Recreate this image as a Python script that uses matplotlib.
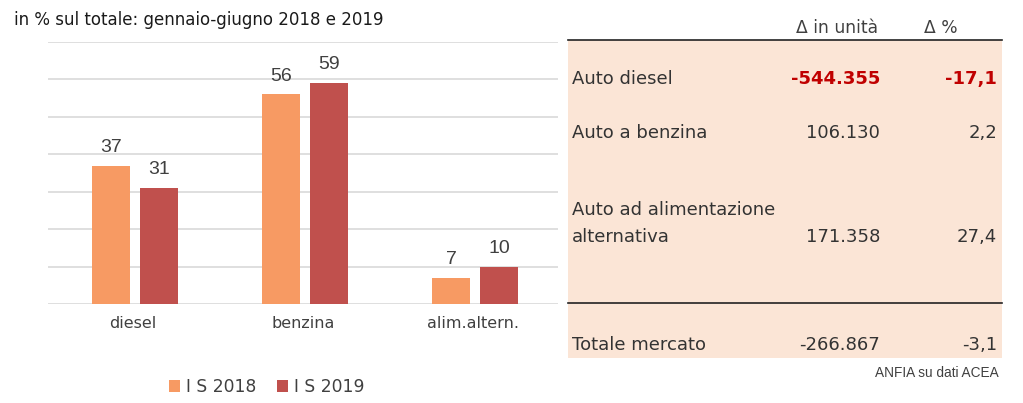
import matplotlib
matplotlib.use("Agg")
import matplotlib.pyplot as plt
from matplotlib.patches import Rectangle
import numpy as np

categories = ["diesel", "benzina", "alim.altern."]
series_names = ["I S 2018", "I S 2019"]
vals_2018 = [37, 56, 7]
vals_2019 = [31, 59, 10]

table_header = ["\u0394 in unit\u00e0", "\u0394 %"]
table_rows = ["Auto diesel", "Auto a benzina", "Auto ad alimentazione\nalternativa", "Totale mercato"]
table_units = ["-544.355", "106.130", "171.358", "-266.867"]
table_pct = ["-17,1", "2,2", "27,4", "-3,1"]

title = "in % sul totale: gennaio-giugno 2018 e 2019"
source = "ANFIA su dati ACEA"

W, H = 1023, 403
C18 = "#F79A63"
C19 = "#C0504D"
TXT = "#404040"
FONT = "DejaVu Sans"

fig = plt.figure(figsize=(W / 100, H / 100), dpi=100)
fig.patch.set_facecolor("white")

def fx(x):
    return x / W

def fy(y):
    return 1 - y / H

ax = fig.add_axes([fx(48), fy(304), fx(558) - fx(48), fy(42) - fy(304)])
x = np.arange(len(categories))
bw = 0.224
off = 0.141
b1 = ax.bar(x - off + 0.012, vals_2018, bw, color=C18, zorder=3, label=series_names[0])
b2 = ax.bar(x + off + 0.012, vals_2019, bw, color=C19, zorder=3, label=series_names[1])
for bars, vals in ((b1, vals_2018), (b2, vals_2019)):
    for r, v in zip(bars, vals):
        ax.text(r.get_x() + r.get_width() / 2, v + 2.6, str(v), ha="center", va="bottom",
                fontsize=14, color=TXT, family="Liberation Sans")
ax.set_xlim(-0.5, 2.5)
ax.set_ylim(0, 70)
ax.set_yticks(np.arange(0, 71, 10))
ax.yaxis.grid(True, color="#D9D9D9", linewidth=1.2, zorder=0)
ax.tick_params(axis="y", left=False, labelleft=False)
ax.tick_params(axis="x", length=0, pad=9)
ax.set_xticks(x)
ax.set_xticklabels(categories, fontsize=11.5, color=TXT, family=FONT)
for s in ax.spines.values():
    s.set_visible(False)
ax.set_facecolor("none")

fig.text(fx(14), fy(20), title, fontsize=12, color="#1a1a1a", family=FONT, va="center", ha="left")

leg = fig.legend(handles=[b1, b2], labels=series_names, loc="center", bbox_to_anchor=(fx(267), fy(387)),
                 ncol=2, frameon=False, handlelength=0.65, handleheight=0.65,
                 handletextpad=0.35, columnspacing=1.2, prop={"family": FONT, "size": 12.3})
for t in leg.get_texts():
    t.set_color(TXT)

# table
fig.patches.append(Rectangle((fx(568), fy(358)), fx(1002) - fx(568), fy(40) - fy(358),
                             transform=fig.transFigure, facecolor="#FBE5D6", edgecolor="none", zorder=0))
fig.add_artist(plt.Line2D([fx(568), fx(1002)], [fy(40), fy(40)], transform=fig.transFigure,
                          color="#222222", linewidth=1.2))
fig.add_artist(plt.Line2D([fx(568), fx(1002)], [fy(303), fy(303)], transform=fig.transFigure,
                          color="#222222", linewidth=1.2))

fig.text(fx(878), fy(28), table_header[0], fontsize=12.3, color=TXT, family=FONT, ha="right", va="center")
fig.text(fx(958), fy(28), table_header[1], fontsize=12.3, color=TXT, family=FONT, ha="right", va="center")

row_y = [79, 133, 224, 345]
for i, (lab, u, p) in enumerate(zip(table_rows, table_units, table_pct)):
    y = row_y[i]
    if "\n" in lab:
        l1, l2 = lab.split("\n")
        fig.text(fx(572), fy(210), l1, fontsize=13, color="#333333", family=FONT, ha="left", va="center")
        fig.text(fx(572), fy(237), l2, fontsize=13, color="#333333", family=FONT, ha="left", va="center")
        vy = 237
    else:
        fig.text(fx(572), fy(y), lab, fontsize=13, color="#333333", family=FONT, ha="left", va="center")
        vy = y
    if i == 0:
        kw = dict(color="#C00000", fontweight="bold")
    else:
        kw = dict(color="#333333")
    fig.text(fx(880), fy(vy), u, fontsize=13, family=FONT, ha="right", va="center", **kw)
    fig.text(fx(997), fy(vy), p, fontsize=13, family=FONT, ha="right", va="center", **kw)

fig.text(fx(999), fy(373), source, fontsize=9.8, color=TXT, family="Liberation Sans", ha="right", va="center")

fig.savefig("out.png", dpi=100)
